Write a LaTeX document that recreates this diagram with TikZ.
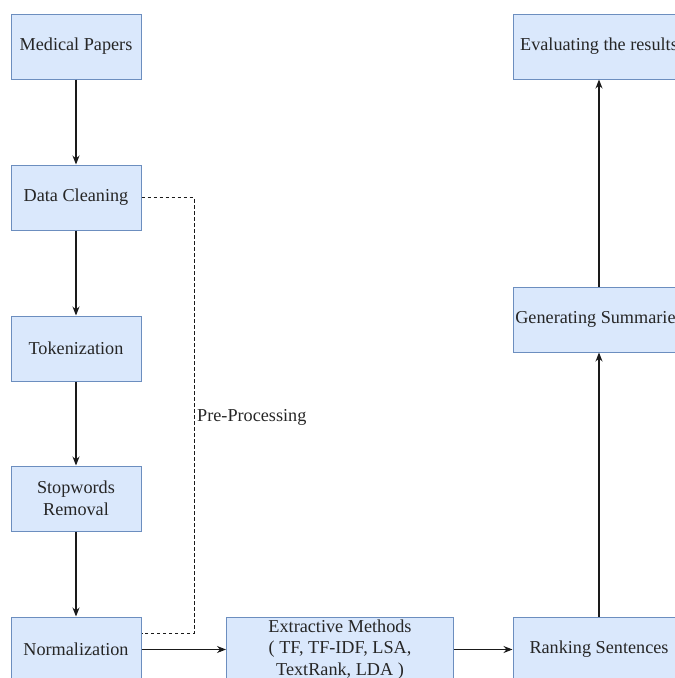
\documentclass[tikz,border=0pt]{standalone}
\usepackage{fontspec}
\setmainfont{Liberation Serif}
\newfontfamily\tnr{Liberation Serif}
\usetikzlibrary{arrows.meta}
\definecolor{boxfill}{HTML}{DAE8FC}
\definecolor{boxdraw}{HTML}{6C8EBF}
\definecolor{linec}{HTML}{1A1A1A}
\begin{document}
\begin{tikzpicture}[x=1pt,y=-1pt,
  box/.style={draw=boxdraw,fill=boxfill,line width=1pt,minimum width=130pt,minimum height=65pt,
    inner sep=0pt,align=center,font=\tnr\fontsize{18.2}{21.8}\selectfont,text=black!85},
  flow/.style={draw=linec,line width=1.1pt,-{Stealth[length=9pt,width=7pt]}},
  dashline/.style={draw=linec,line width=1pt,dash pattern=on 3.5pt off 2.5pt}]
\useasboundingbox (0,0) rectangle (675,678);
\clip (0,0) rectangle (675,678);
\node[box] (mp) at (76,46.5) {Medical Papers};
\node[box] (dc) at (76,197.5) {Data Cleaning};
\node[box] (tok) at (76,348.5) {Tokenization};
\node[box] (sw) at (76,498.5) {Stopwords\\Removal};
\node[box] (norm) at (76,649.5) {Normalization};
\node[box,minimum width=227pt] (ext) at (340,649.5) {Extractive Methods\\( TF, TF-IDF, LSA,\\TextRank, LDA )};
\node[box,minimum width=172pt] (rank) at (599,649.5) {Ranking Sentences};
\node[box,minimum width=172pt] (gen) at (599,319.5) {Generating Summaries};
\node[box,minimum width=172pt] (eval) at (599,46.5) {Evaluating the results};
\draw[flow] (mp) -- (dc);
\draw[flow] (dc) -- (tok);
\draw[flow] (tok) -- (sw);
\draw[flow] (sw) -- (norm);
\draw[flow] (norm) -- (ext);
\draw[flow] (ext) -- (rank);
\draw[flow] (rank) -- (gen);
\draw[flow] (gen) -- (eval);
\coordinate (ne) at ([yshift=16.5pt]norm.east);
\draw[dashline] (dc.east) -- (194,197.5) -- (194,633) -- (ne);
\node[anchor=west,inner sep=0pt,font=\tnr\fontsize{18.2}{21}\selectfont,text=black!85] (pp) at (197,417) {Pre-Processing};
\end{tikzpicture}
\end{document}
